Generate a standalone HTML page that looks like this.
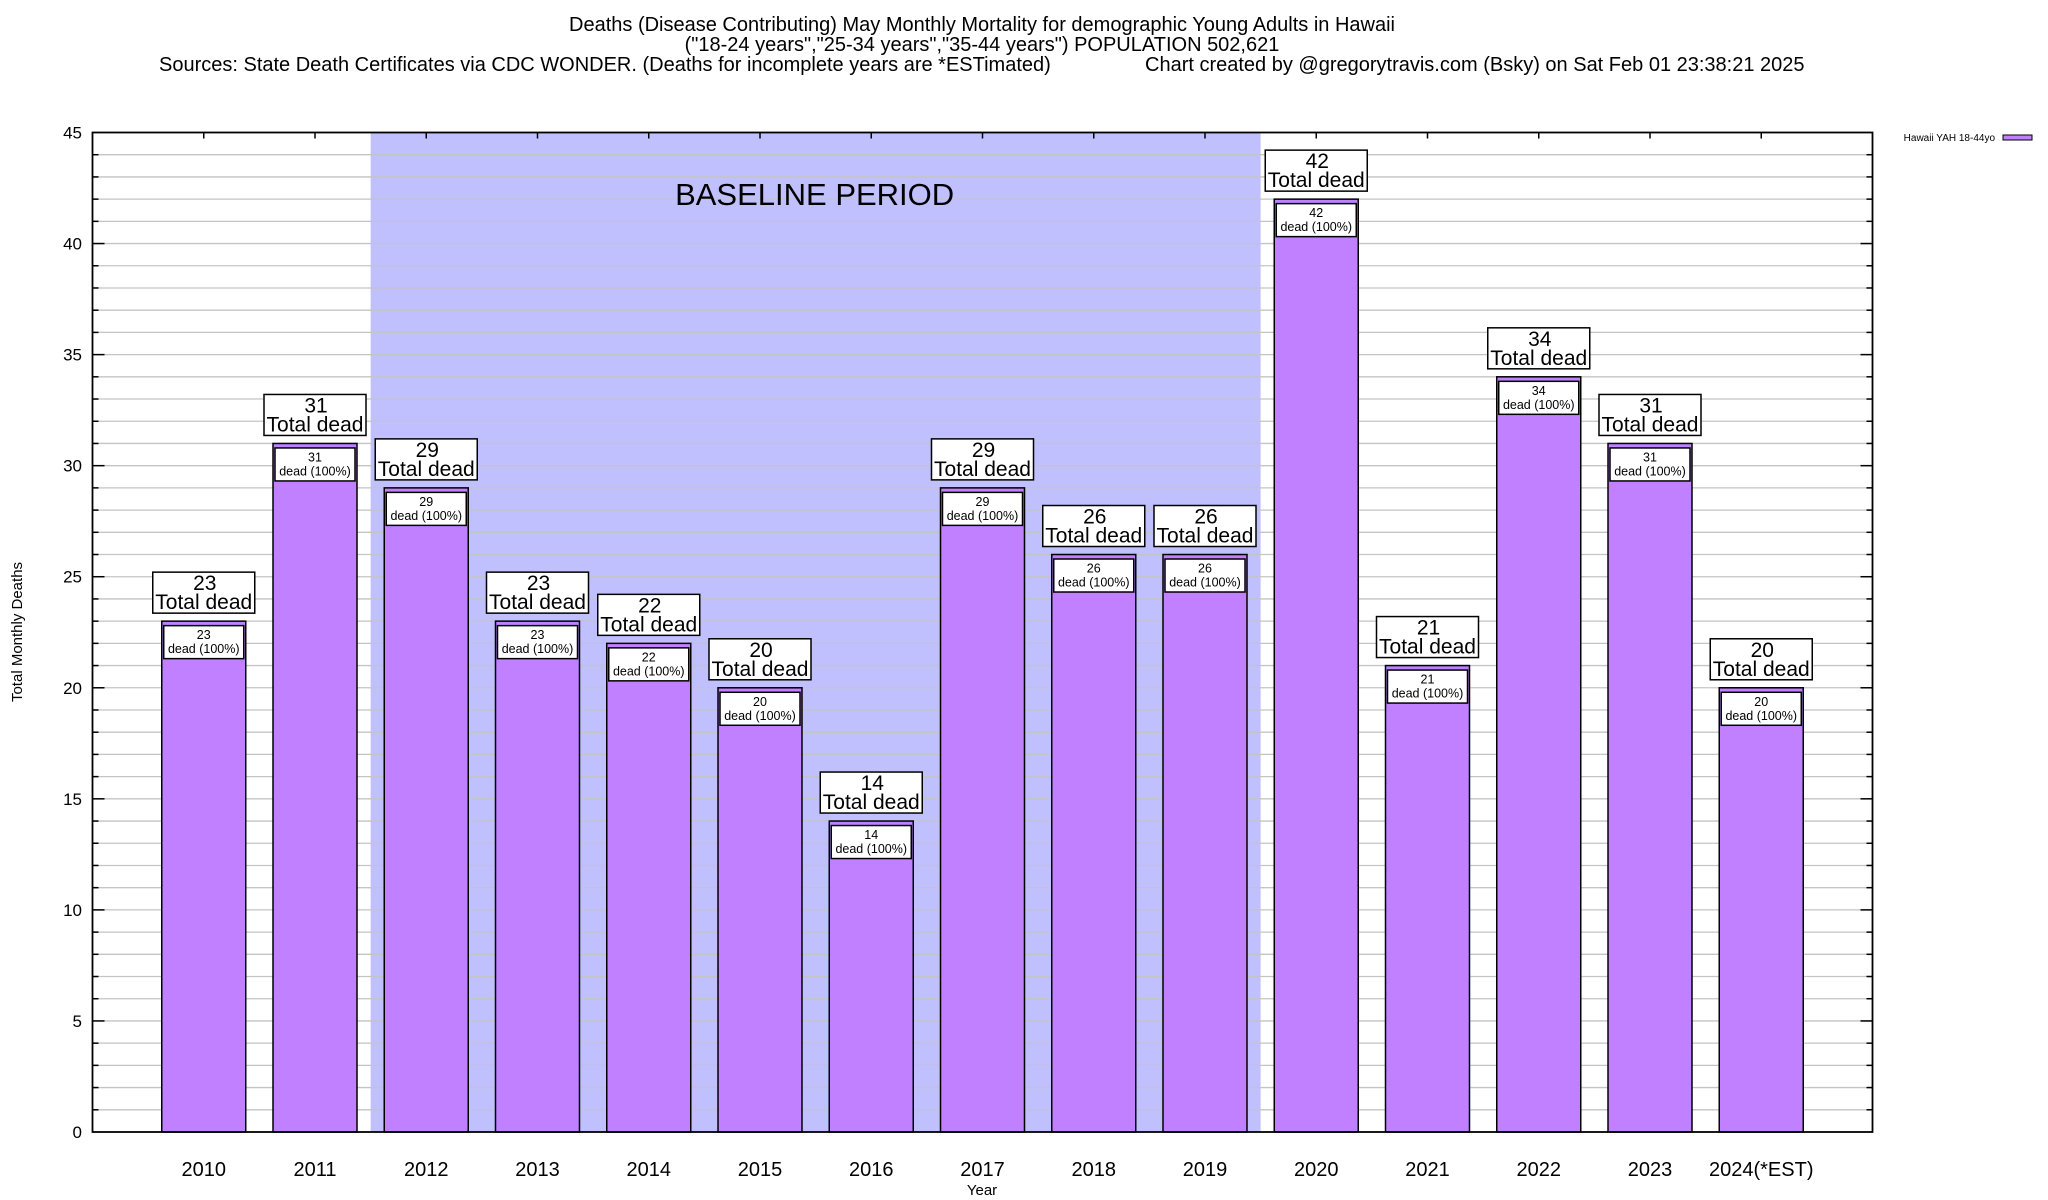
<!DOCTYPE html>
<html><head><meta charset="utf-8"><style>
html,body{margin:0;padding:0;background:#fff;}
svg{display:block;font-family:"Liberation Sans",Arial,sans-serif;}
</style></head><body>
<svg id="chart" width="2048" height="1200" viewBox="0 0 2048 1200">
<g font-size="20" text-anchor="middle" fill="#000">
<text x="982" y="31">Deaths (Disease Contributing) May Monthly Mortality for demographic Young Adults in Hawaii</text>
<text x="982" y="51">("18-24 years","25-34 years","35-44 years") POPULATION 502,621</text>
<text x="159" y="71" text-anchor="start">Sources: State Death Certificates via CDC WONDER. (Deaths for incomplete years are *ESTimated)</text>
<text x="1145" y="71" text-anchor="start">Chart created by @gregorytravis.com (Bsky) on Sat Feb 01 23:38:21 2025</text>
</g>
<g id="plot"></g>
<text x="22" y="632" font-size="15" text-anchor="middle" transform="rotate(-90 22 632)">Total Monthly Deaths</text>
<text x="982" y="1195" font-size="15" text-anchor="middle">Year</text>
<g>
<text x="1995" y="141" font-size="10" text-anchor="end">Hawaii YAH 18-44yo</text>
<rect x="2003" y="135" width="29" height="5" fill="#c080ff" stroke="#000" stroke-width="1"/>
</g>
</svg>
<script>
const categories = ["2010","2011","2012","2013","2014","2015","2016","2017","2018","2019","2020","2021","2022","2023","2024(*EST)"];
const deaths = [23,31,29,23,22,20,14,29,26,26,42,21,34,31,20];
const yTicks = [0,5,10,15,20,25,30,35,40,45];
const baselineRange = [2012,2019];

const NS = "http://www.w3.org/2000/svg";
const L = 92.5, R = 1872.5, T = 132.5, B = 1132, YMAX = 45;
const slot = (R - L) / 16;
function xS(i){ return L + (i + 1) * slot; }
function yS(v){ return B - (B - T) * v / YMAX; }
const plot = document.getElementById('plot');
function mk(tag, attrs, parent){
  const e = document.createElementNS(NS, tag);
  for (const k in attrs) e.setAttribute(k, attrs[k]);
  (parent || plot).appendChild(e);
  return e;
}
const i0 = categories.indexOf(String(baselineRange[0])), i1 = categories.indexOf(String(baselineRange[1]));
const shade = mk('rect', {x: xS(i0) - slot/2, y: T, width: (i1 - i0 + 1) * slot, height: B - T, fill: '#c0c0ff'});


for (let v = 1; v < YMAX; v++) {
  const g = mk('line', {x1: L, x2: R, y1: yS(v), y2: yS(v), stroke: '#c4c4c4', 'stroke-width': 1.3});
  
  
  const len = v % 5 === 0 ? 12 : 6;
  const t1 = mk('line', {x1: L, x2: L + len, y1: yS(v), y2: yS(v), stroke: '#000', 'stroke-width': 1.5});
  
  
  const t2 = mk('line', {x1: R - len, x2: R, y1: yS(v), y2: yS(v), stroke: '#000', 'stroke-width': 1.5});
  
  
}
const bt = mk('text', {x: (xS(i0) + xS(i1)) / 2 - 1, y: 205, 'font-size': 31, 'text-anchor': 'middle'});
bt.textContent = 'BASELINE PERIOD';


yTicks.forEach(v => {
  const t = mk('text', {x: 82, y: yS(v) + 6, 'font-size': 17, 'text-anchor': 'end'});
  t.textContent = v;
  
  
});
const BW = 84;
categories.forEach((c, i) => {
  const cx = xS(i), v = deaths[i], yt = yS(v);
  const tk = mk('line', {x1: cx, x2: cx, y1: T, y2: T + 6, stroke: '#000', 'stroke-width': 1.5});
  
  
  const bar = mk('rect', {x: cx - BW/2, y: yt, width: BW, height: B - yt, fill: '#c080ff', stroke: '#000', 'stroke-width': 1.5});
  
  
  const ib = mk('rect', {x: cx - 40, y: yt + 4.5, width: 80, height: 33, fill: '#fff', stroke: '#000', 'stroke-width': 1.5});
  
  
  const it1 = mk('text', {x: cx, y: yt + 18, 'font-size': 12.5, 'text-anchor': 'middle'});
  it1.textContent = v;
  
  
  const it2 = mk('text', {x: cx, y: yt + 32, 'font-size': 12.5, 'text-anchor': 'middle'});
  it2.textContent = 'dead (100%)';
  
  
  const ob = mk('rect', {x: cx - 51, y: yt - 49, width: 102, height: 41, fill: '#fff', stroke: '#000', 'stroke-width': 1.5});
  
  
  const ot1 = mk('text', {x: cx + 1, y: yt - 31, 'font-size': 21, 'text-anchor': 'middle'});
  ot1.textContent = v;
  
  
  const ot2 = mk('text', {x: cx, y: yt - 12, 'font-size': 21, 'text-anchor': 'middle'});
  ot2.textContent = 'Total dead';
  
  
  const xl = mk('text', {x: cx, y: 1176, 'font-size': 20, 'text-anchor': 'middle'});
  xl.textContent = c;
  
  
});
const frame = mk('rect', {x: L, y: T, width: R - L, height: B - T, fill: 'none', stroke: '#000', 'stroke-width': 1.8});


</script>
</body></html>
